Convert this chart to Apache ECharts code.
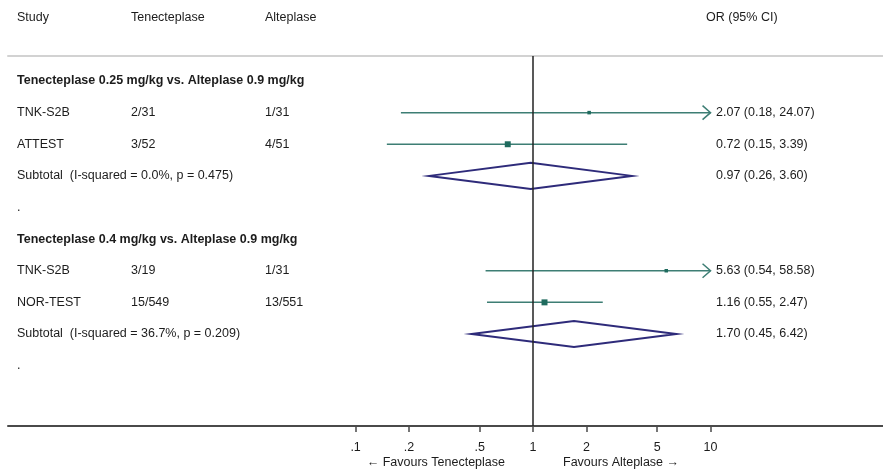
<!DOCTYPE html>
<html><head><meta charset="utf-8">
<script src="https://cdn.jsdelivr.net/npm/echarts@6/dist/echarts.min.js"></script>
<style>html,body{margin:0;padding:0;background:#fff}#c{width:883px;height:472px}</style>
</head><body><div id="c"></div>
<script>
const headers = ['Study', 'Tenecteplase', 'Alteplase', 'OR (95% CI)'];
const groupTitles = ['Tenecteplase 0.25 mg/kg vs. Alteplase 0.9 mg/kg', 'Tenecteplase 0.4 mg/kg vs. Alteplase 0.9 mg/kg'];
const groupRows = [1, 6];
const studyNames = ['TNK-S2B', 'ATTEST', 'TNK-S2B', 'NOR-TEST'];
const tenEvents = ['2/31', '3/52', '3/19', '15/549'];
const altEvents = ['1/31', '4/51', '1/31', '13/551'];
const studyOR = [2.07, 0.72, 5.63, 1.16];
const studyLo = [0.18, 0.15, 0.54, 0.55];
const studyHi = [24.07, 3.39, 58.58, 2.47];
const studyWeight = [15, 85, 14, 86];
const studyRows = [2, 3, 7, 8];
const subtotalLabels = ['Subtotal  (I-squared = 0.0%, p = 0.475)', 'Subtotal  (I-squared = 36.7%, p = 0.209)'];
const subtotalOR = [0.97, 1.70];
const subtotalLo = [0.26, 0.45];
const subtotalHi = [3.60, 6.42];
const subtotalRows = [4, 9];
const spacerRows = [5, 10];
const tickValues = [0.1, 0.2, 0.5, 1, 2, 5, 10];
const tickLabels = ['.1', '.2', '.5', '1', '2', '5', '10'];
const favourLeft = '\u2190 Favours Tenecteplase';
const favourRight = 'Favours Alteplase \u2192';
const displayMax = 10;

const FONT = '"Liberation Sans", Arial, sans-serif';
const FS = 12.5;
const TXT = '#1c1c1c';
const CI_COLOR = '#3d7e74';
const BOX_COLOR = '#1f6b5e';
const DIAMOND_COLOR = '#2e2b7a';
const colX = [17, 131, 265, 716];
const ciText = (o, l, h) => o.toFixed(2) + ' (' + l.toFixed(2) + ', ' + h.toFixed(2) + ')';

const textRows = [];
textRows.push({ row: -1, bold: false, cells: [[colX[0], headers[0]], [colX[1], headers[1]], [colX[2], headers[2]], [706, headers[3]]] });
groupRows.forEach((r, g) => textRows.push({ row: r, bold: true, cells: [[colX[0], groupTitles[g]]] }));
studyRows.forEach((r, i) => textRows.push({ row: r, bold: false, cells: [[colX[0], studyNames[i]], [colX[1], tenEvents[i]], [colX[2], altEvents[i]], [colX[3], ciText(studyOR[i], studyLo[i], studyHi[i])]] }));
subtotalRows.forEach((r, i) => textRows.push({ row: r, bold: false, cells: [[colX[0], subtotalLabels[i]], [colX[3], ciText(subtotalOR[i], subtotalLo[i], subtotalHi[i])]] }));
spacerRows.forEach(r => textRows.push({ row: r, bold: false, cells: [[colX[0], '.']] }));

const chart = echarts.init(document.getElementById('c'), null, { renderer: 'canvas' });

function labelFor(v) {
  for (let i = 0; i < tickValues.length; i++) {
    if (Math.abs(Math.log(v / tickValues[i])) < 1e-6) return tickLabels[i];
  }
  return '';
}

const option = {
  animation: false,
  backgroundColor: '#fff',
  grid: { left: 8, right: 0, top: 56, bottom: 46, containLabel: false, outerBoundsMode: 'none' },
  xAxis: [{
    type: 'log', logBase: 10, min: 0.0011, max: 93.7, position: 'bottom',
    axisLine: { show: true, lineStyle: { color: '#4a4a4a', width: 2 } },
    axisTick: { show: true, customValues: tickValues, length: 6, lineStyle: { color: '#4a4a4a', width: 1.5 } },
    axisLabel: { customValues: tickValues, margin: 15, color: TXT, fontSize: FS, fontFamily: FONT, formatter: labelFor },
    splitLine: { show: false }, minorTick: { show: false }
  }, {
    type: 'log', logBase: 10, min: 0.0011, max: 93.7, position: 'top',
    axisLine: { show: true, lineStyle: { color: '#d2d2d2', width: 2 } },
    axisTick: { show: false }, axisLabel: { show: false }, splitLine: { show: false }
  }],
  yAxis: { type: 'value', inverse: true, min: 0.209, max: 11.91, show: false, splitLine: { show: false } },
  graphic: [
    { type: 'text', x: 505, y: 463, style: { text: favourLeft, align: 'right', verticalAlign: 'middle', font: FS + 'px ' + FONT, fill: TXT } },
    { type: 'text', x: 563, y: 463, style: { text: favourRight, align: 'left', verticalAlign: 'middle', font: FS + 'px ' + FONT, fill: TXT } }
  ],
  series: [
    {
      type: 'line', data: [], silent: true,
      markLine: { silent: true, symbol: ['none', 'none'], label: { show: false },
        lineStyle: { color: '#222', width: 1.5, type: 'solid' }, data: [{ xAxis: 1 }] }
    },
    {
      type: 'custom', silent: true, clip: false,
      data: studyRows.map((r, i) => [studyOR[i], r]),
      renderItem: function (params, api) {
        const i = params.dataIndex;
        const r = studyRows[i];
        const p0 = api.coord([studyLo[i], r]);
        const p1 = api.coord([Math.min(studyHi[i], displayMax), r]);
        const pc = api.coord([studyOR[i], r]);
        const s = 1.8 + 0.45 * Math.sqrt(studyWeight[i]);
        const ch = [
          { type: 'line', shape: { x1: p0[0], y1: p0[1], x2: p1[0], y2: p1[1] }, style: { stroke: CI_COLOR, lineWidth: 1.5 } },
          { type: 'rect', shape: { x: pc[0] - s / 2, y: pc[1] - s / 2, width: s, height: s }, style: { fill: BOX_COLOR } }
        ];
        if (studyHi[i] > displayMax) {
          ch.push({ type: 'polyline', shape: { points: [[p1[0] - 8, p1[1] - 7], [p1[0], p1[1]], [p1[0] - 8, p1[1] + 7]] }, style: { stroke: CI_COLOR, lineWidth: 1.5, fill: null } });
        }
        return { type: 'group', children: ch };
      }
    },
    {
      type: 'custom', silent: true, clip: false,
      data: subtotalRows.map((r, i) => [subtotalOR[i], r]),
      renderItem: function (params, api) {
        const i = params.dataIndex;
        const r = subtotalRows[i];
        const pl = api.coord([subtotalLo[i], r]);
        const ph = api.coord([subtotalHi[i], r]);
        const pc = api.coord([subtotalOR[i], r]);
        const h = 13;
        return { type: 'polygon', shape: { points: [[pl[0], pl[1]], [pc[0], pc[1] - h], [ph[0], ph[1]], [pc[0], pc[1] + h]] },
          style: { stroke: DIAMOND_COLOR, lineWidth: 2, fill: 'rgba(255,255,255,0)' } };
      }
    },
    {
      type: 'custom', silent: true, clip: false,
      data: textRows.map(t => [1, t.row]),
      renderItem: function (params, api) {
        const t = textRows[params.dataIndex];
        const y = api.coord([1, t.row])[1];
        return { type: 'group', children: t.cells.map(c => ({
          type: 'text', x: c[0], y: y,
          style: { text: c[1], align: 'left', verticalAlign: 'middle', font: (t.bold ? 'bold ' : '') + FS + 'px ' + FONT, fill: TXT }
        })) };
      }
    }
  ]
};
chart.setOption(option);
</script>
</body></html>
